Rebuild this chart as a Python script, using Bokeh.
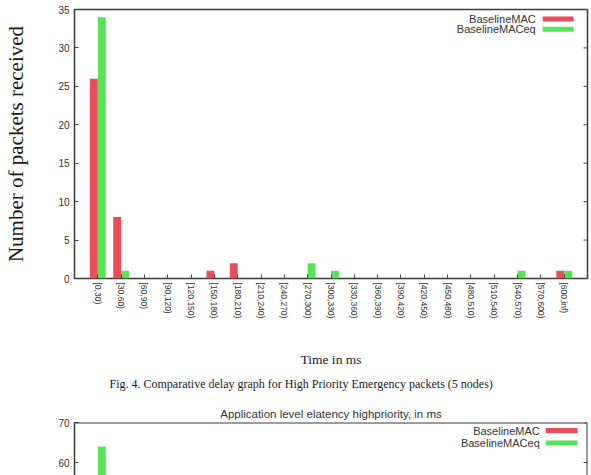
import math
from bokeh.plotting import figure
from bokeh.models import FixedTicker, Label, BoxAnnotation, Range1d, ColumnDataSource, Span
from bokeh.transform import dodge
from bokeh.layouts import column
from bokeh.embed import file_html
from bokeh.resources import INLINE

# ---------------- data ----------------
bins = ["[0,30)", "[30,60)", "[60,90)", "[90,120)", "[120,150)", "[150,180)",
        "[180,210)", "[210,240)", "[240,270)", "[270,300)", "[300,330)",
        "[330,360)", "[360,390)", "[390,420)", "[420,450)", "[450,480)",
        "[480,510)", "[510,540)", "[540,570)", "[570,600)", "[600,inf)"]
baseline_mac = [26, 8, 0, 0, 0, 1, 2, 0, 0, 0, 0, 0, 0, 0, 0, 0, 0, 0, 0, 0, 1]
baseline_mac_eq = [34, 1, 0, 0, 0, 0, 0, 0, 0, 2, 1, 0, 0, 0, 0, 0, 0, 0, 1, 0, 1]
y_ticks_top = [0, 5, 10, 15, 20, 25, 30, 35]

# second (partially visible) chart: only the visible bar
bins2_visible = ["[0,30)"]
baseline_mac_eq2_visible = [64]
y_ticks_bottom = [60, 70]

series_names = ["BaselineMAC", "BaselineMACeq"]
title2 = "Application level elatency highpriority, in ms"
caption = "Fig. 4. Comparative delay graph for High Priority Emergency packets (5 nodes)"
y_label = "Number of packets received"
x_label = "Time in ms"

RED = "#ec4c56"
GREEN = "#55e455"
SANS = "Liberation Sans"
SERIF = "Liberation Serif"
TXT = "#333333"
DARK = "#1a1a1a"
FRAME = "#3a3a3a"
TICK = "#444444"

W = 591
NB = len(bins)
idx = list(range(NB))
bw = 0.34

# ---------------- figure 1 ----------------
H1 = 395
L1, R1, T1, B1 = 72, 4, 9, 115
p = figure(width=W, height=H1, output_backend="svg", toolbar_location=None,
           x_range=Range1d(-1, NB), y_range=Range1d(0, 35),
           min_border_left=L1, min_border_right=R1, min_border_top=T1,
           min_border_bottom=B1, title_location="below")
p.xgrid.visible = False
p.ygrid.visible = False
p.outline_line_color = FRAME
p.outline_line_width = 1.5

src = ColumnDataSource(dict(x=idx, mac=baseline_mac, eq=baseline_mac_eq))
p.vbar(x=dodge("x", -bw / 2), top="mac", width=bw, source=src,
       fill_color=RED, line_color=None)
p.vbar(x=dodge("x", bw / 2), top="eq", width=bw, source=src,
       fill_color=GREEN, line_color=None)

xa = p.xaxis[0]
xa.ticker = FixedTicker(ticks=idx)
xa.major_label_overrides = {i: b for i, b in enumerate(bins)}
xa.major_label_orientation = -math.pi / 2
xa.major_label_text_font = SANS
xa.major_label_text_font_size = "8.5px"
xa.major_label_text_color = TXT
xa.major_tick_in = 4
xa.major_tick_out = 0
xa.minor_tick_line_color = None
xa.axis_line_color = None
xa.major_tick_line_color = TICK
xa.major_label_standoff = 4
xa.axis_label = x_label
xa.axis_label_text_font = SERIF
xa.axis_label_text_font_size = "13.5px"
xa.axis_label_text_font_style = "normal"
xa.axis_label_text_color = DARK
xa.axis_label_standoff = 31

ya = p.yaxis[0]
ya.ticker = FixedTicker(ticks=y_ticks_top)
ya.major_label_text_font = SANS
ya.major_label_text_font_size = "10px"
ya.major_label_text_color = TXT
ya.major_tick_in = 4
ya.major_tick_out = 0
ya.minor_tick_line_color = None
ya.axis_line_color = None
ya.major_tick_line_color = TICK
ya.major_label_standoff = 5
ya.axis_label = y_label
ya.axis_label_text_font = SERIF
ya.axis_label_text_font_size = "21px"
ya.axis_label_text_font_style = "normal"
ya.axis_label_text_color = DARK
ya.axis_label_standoff = 27

p.title.text = caption
p.title.align = "left"
p.title.offset = 35
p.title.text_font = SERIF
p.title.text_font_size = "12px"
p.title.text_font_style = "normal"
p.title.text_color = DARK
p.title.standoff = 9

fw1 = W - L1 - R1
fh1 = H1 - T1 - B1
upx1 = (NB + 1) / fw1          # x data units per pixel
def dx1(px):
    return -1 + (px - L1) * upx1
def dy1(py):
    return (H1 - B1 - py) / fh1 * 35

# mirrored ticks on the right frame edge
tl = 4 * upx1
p.segment(x0=[NB - tl] * len(y_ticks_top), x1=[NB] * len(y_ticks_top),
          y0=y_ticks_top, y1=y_ticks_top, line_color=TICK, line_width=1)

# legend (gnuplot style: text, then swatch)
for k, (name, col) in enumerate(zip(series_names, [RED, GREEN])):
    yc = 18.5 + k * 10.5
    p.add_layout(Label(x=dx1(535), y=dy1(yc), text=name, text_align="right",
                       text_baseline="middle", text_font=SANS,
                       text_font_size="11px", text_color=TXT))
    p.add_layout(BoxAnnotation(left=dx1(542), right=dx1(573),
                               top=dy1(yc - 2.5), bottom=dy1(yc + 2.5),
                               fill_color=col, fill_alpha=1, line_color=None))

# ---------------- figure 2 (top part of the next chart) ----------------
H2 = 80
L2, R2, T2 = 74, 1, 27
ppu2 = 4.0  # 10 units per 40 px
y2_start = 70 - (H2 - T2) / ppu2
q = figure(width=W, height=H2, output_backend="svg", toolbar_location=None,
           x_range=Range1d(-1, NB), y_range=Range1d(y2_start, 70),
           min_border_left=L2, min_border_right=R2, min_border_top=T2,
           min_border_bottom=0, title=title2)
q.xgrid.visible = False
q.ygrid.visible = False
q.outline_line_color = None
q.xaxis.visible = False
q.title.align = "center"
q.title.vertical_align = "middle"
q.title.text_font = SANS
q.title.text_font_size = "11.5px"
q.title.text_font_style = "normal"
q.title.text_color = TXT
q.title.standoff = 4

q.vbar(x=[bins.index(b) + bw / 2 for b in bins2_visible], top=baseline_mac_eq2_visible,
       width=bw, fill_color=GREEN, line_color=None)

ya2 = q.yaxis[0]
ya2.ticker = FixedTicker(ticks=y_ticks_bottom)
ya2.major_label_text_font = SANS
ya2.major_label_text_font_size = "10px"
ya2.major_label_text_color = TXT
ya2.major_tick_in = 4
ya2.major_tick_out = 0
ya2.minor_tick_line_color = None
ya2.axis_line_color = FRAME
ya2.axis_line_width = 1.5
ya2.major_tick_line_color = TICK
ya2.major_label_standoff = 5

q.add_layout(Span(location=70, dimension="width", line_color=FRAME, line_width=2))
q.add_layout(Span(location=NB, dimension="height", line_color=FRAME, line_width=2))

fw2 = W - L2 - R2
upx2 = (NB + 1) / fw2
def dx2(px):
    return -1 + (px - L2) * upx2
def dy2(py):
    return 70 - (py - T2) / ppu2

q.segment(x0=[NB - 4 * upx2] * len(y_ticks_bottom), x1=[NB] * len(y_ticks_bottom),
          y0=y_ticks_bottom, y1=y_ticks_bottom, line_color=TICK, line_width=1)

for k, (name, col) in enumerate(zip(series_names, [RED, GREEN])):
    yc = 35 + k * 12.5
    q.add_layout(Label(x=dx2(542), y=dy2(yc), text=name, text_align="right",
                       text_baseline="middle", text_font=SANS,
                       text_font_size="11px", text_color=TXT))
    q.add_layout(BoxAnnotation(left=dx2(548), right=dx2(580),
                               top=dy2(yc - 2.5), bottom=dy2(yc + 2.5),
                               fill_color=col, fill_alpha=1, line_color=None))

layout = column(p, q, spacing=0)
open("out.html", "w").write(file_html(layout, INLINE))
